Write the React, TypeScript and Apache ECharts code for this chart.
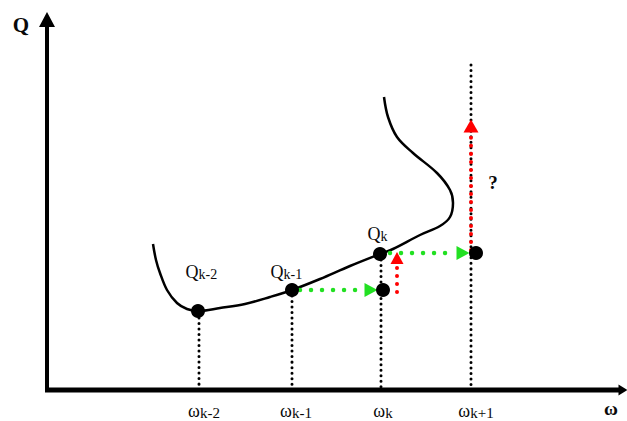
import React, { useEffect, useRef } from "react";
import * as echarts from "echarts";

// Diagram coordinates: origin at the axes corner, x to the right, y upward.
const curvePoints: [number, number][] = [
  [106, 146], [109, 130], [113, 117], [120, 100], [130, 87], [140, 81], [151, 79],
  [173, 82], [198, 86], [223, 93], [245, 100], [273, 111], [303, 124], [333, 136],
  [346, 141], [373, 155], [393, 164], [403, 173], [406, 187], [403, 200], [390, 217],
  [366, 237], [350, 253], [341, 273], [337, 293],
];

const dotPoints: [number, number][] = [
  [151, 79], [245, 100], [333, 136], [336, 100], [429, 137],
];

// vertical dotted guides: [x, yTop]
const guideLines: [number, number][] = [
  [152, 72], [245, 94], [334, 130], [424, 325],
];

// green horizontal steps: [xStart, xEnd, y, arrowX]
const greenSteps: [number, number, number, number][] = [
  [253, 315, 100, 324],
  [343, 408, 137, 416],
];

// red vertical steps: [x, yStart, yEnd, arrowY, arrowW, arrowH]
const redSteps: [number, number, number, number, number, number][] = [
  [350, 98, 124, 132, 13, 12],
  [424, 140, 256, 264, 15, 13],
];

const qLabels = [
  { sub: "k-2", pos: [138, 118] },
  { sub: "k-1", pos: [223, 118] },
  { sub: "k", pos: [320, 156] },
];

const tickLabels = ["k-2", "k-1", "k", "k+1"];
const tickPositions = [157, 249, 336, 429];
const tickLabelY = -22;

const SERIF = "'Liberation Serif', 'Times New Roman', serif";
const TEXT = "#0a0a0a";

export default function App() {
  const ref = useRef<HTMLDivElement>(null);

  useEffect(() => {
    if (!ref.current) return;
    const chart = echarts.init(ref.current, undefined, { renderer: "svg" });

    const dotted = (
      data: [number, number][],
      color: string,
      width: number,
      gap: number,
      z = 2
    ) => ({
      type: "line",
      data,
      showSymbol: false,
      symbol: "none",
      silent: true,
      z,
      lineStyle: { color, width, type: [0.01, gap], cap: "round", opacity: 1 },
    });

    const tri = (pos: [number, number], size: [number, number], rot: number, color: string, z: number) => ({
      type: "scatter",
      data: [pos],
      symbol: "triangle",
      symbolSize: size,
      symbolRotate: rot,
      itemStyle: { color, opacity: 1 },
      z,
    });

    const series: any[] = [];

    // axes
    series.push({
      type: "line",
      data: [[-2, 0], [573, 0]],
      symbol: "none",
      lineStyle: { color: "#000", width: 5 },
      z: 1,
    });
    series.push({
      type: "line",
      data: [[0, -2], [0, 364]],
      symbol: "none",
      lineStyle: { color: "#000", width: 4 },
      z: 1,
    });
    series.push(tri([576, 0], [11, 9], -90, "#000", 1));
    series.push(tri([0, 370.5], [16, 15], 0, "#000", 1));

    // guides
    guideLines.forEach(([x, yTop]) => {
      series.push(dotted([[x, yTop], [x, 2]], "#000", 3, 5.5, 2));
    });

    // curve
    series.push({
      type: "line",
      data: curvePoints,
      smooth: 0.35,
      symbol: "none",
      lineStyle: { color: "#000", width: 2.5 },
      z: 3,
    });

    // green steps
    greenSteps.forEach(([x0, x1, y, ax]) => {
      series.push(dotted([[x0, y], [x1, y]], "#22e022", 4.5, 11, 4));
      series.push(tri([ax, y], [14, 13], -90, "#22e022", 4));
    });

    // red steps
    redSteps.forEach(([x, y0, y1, ay, aw, ah]) => {
      series.push(dotted([[x, y0], [x, y1]], "#ff0000", 4, 8, 4));
      series.push(tri([x, ay], [aw, ah], 0, "#ff0000", 4));
    });

    // dots
    series.push({
      type: "scatter",
      data: dotPoints,
      symbol: "circle",
      symbolSize: 14,
      itemStyle: { color: "#000", opacity: 1 },
      z: 5,
    });

    // Q labels
    series.push({
      type: "scatter",
      data: qLabels.map((l) => ({ value: l.pos, name: l.sub })),
      symbolSize: 1,
      itemStyle: { color: "transparent" },
      z: 6,
      label: {
        show: true,
        position: "right",
        distance: 0,
        opacity: 1,
        formatter: (p: any) => `{q|Q}{s|${p.name}}`,
        rich: {
          q: { fontFamily: SERIF, fontSize: 18, lineHeight: 18, color: TEXT, verticalAlign: "bottom" },
          s: { fontFamily: SERIF, fontSize: 14, lineHeight: 18, color: TEXT, verticalAlign: "bottom" },
        },
      },
    });

    // omega tick labels
    series.push({
      type: "scatter",
      data: tickPositions.map((x, i) => ({ value: [x, tickLabelY], name: tickLabels[i] })),
      symbolSize: 1,
      itemStyle: { color: "transparent" },
      z: 6,
      label: {
        show: true,
        position: "inside",
        opacity: 1,
        formatter: (p: any) => `{w|ω}{s|${p.name}}`,
        rich: {
          w: { fontFamily: SERIF, fontSize: 18, lineHeight: 16, color: TEXT, verticalAlign: "bottom" },
          s: { fontFamily: SERIF, fontSize: 15, lineHeight: 16, color: TEXT, verticalAlign: "bottom" },
        },
      },
    });

    // axis names and question mark
    const plain = (pos: [number, number], text: string, size: number) => ({
      type: "scatter",
      data: [{ value: pos, name: text }],
      symbolSize: 1,
      itemStyle: { color: "transparent" },
      z: 6,
      label: {
        show: true,
        position: "inside",
        opacity: 1,
        formatter: text,
        fontFamily: SERIF,
        fontWeight: "bold",
        fontSize: size,
        lineHeight: size,
        color: TEXT,
      },
    });
    series.push(plain([-26, 365], "Q", 21));
    series.push(plain([564, -18], "ω", 19));
    series.push(plain([446, 208], "?", 19));

    chart.setOption({
      animation: false,
      backgroundColor: "#ffffff",
      grid: { left: 0, right: 0, top: 0, bottom: 0 },
      xAxis: { type: "value", min: -47, max: 580, show: false },
      yAxis: { type: "value", min: -31, max: 390, show: false },
      series,
    });

    return () => chart.dispose();
  }, []);

  return (
    <div
      ref={ref}
      style={{ position: "fixed", left: 0, top: 0, width: 627, height: 421, background: "#fff" }}
    />
  );
}
